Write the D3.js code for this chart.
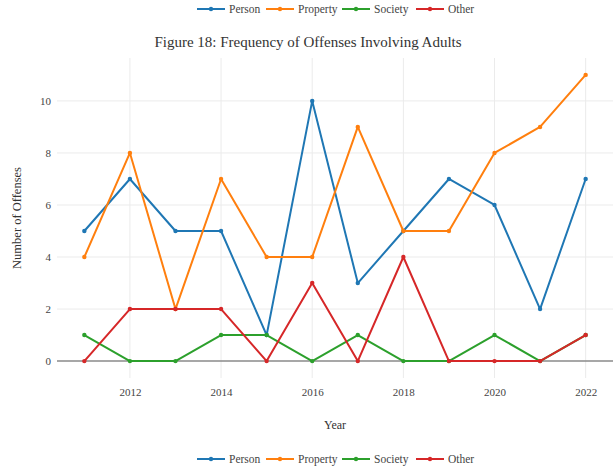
<!DOCTYPE html>
<html><head><meta charset="utf-8">
<script src="https://cdn.jsdelivr.net/npm/d3@7"></script>
<style>body{margin:0;background:#fff}svg{display:block}</style>
</head><body>
<script>
const years = [2011,2012,2013,2014,2015,2016,2017,2018,2019,2020,2021,2022];
const person   = [5,7,5,5,1,10,3,5,7,6,2,7];
const property = [4,8,2,7,4,4,9,5,5,8,9,11];
const society  = [1,0,0,1,1,0,1,0,0,1,0,1];
const other    = [0,2,2,2,0,3,0,4,0,0,0,1];
const seriesNames = ["Person","Property","Society","Other"];
const seriesColors = ["#1f77b4","#ff7f0e","#2ca02c","#d62728"];
const xTicks = [2012,2014,2016,2018,2020,2022];
const yTicks = [0,2,4,6,8,10];

const W=613,H=470;
const m={l:57,r:0,t:58,b:92};
const svg=d3.select("body").append("svg").attr("width",W).attr("height",H);
const font="Liberation Serif, Times New Roman, serif";
const x=d3.scaleLinear().domain([2010.4,2022.6]).range([m.l,W-m.r]);
const y=d3.scaleLinear().domain([-0.65,11.65]).range([H-m.b,m.t]);

// grid
svg.append("g").selectAll("line").data(xTicks).join("line")
  .attr("x1",d=>x(d)).attr("x2",d=>x(d)).attr("y1",m.t).attr("y2",H-m.b)
  .attr("stroke","#ebebeb").attr("stroke-width",1);
svg.append("g").selectAll("line").data(yTicks.filter(d=>d!==0)).join("line")
  .attr("x1",m.l).attr("x2",W-m.r).attr("y1",d=>y(d)).attr("y2",d=>y(d))
  .attr("stroke","#ebebeb").attr("stroke-width",1);
// zero line
svg.append("line").attr("x1",m.l).attr("x2",W-m.r).attr("y1",y(0)).attr("y2",y(0))
  .attr("stroke","#8a8a8a").attr("stroke-width",1.5);

// axes labels
const xa=svg.append("g").attr("transform",`translate(0,${H-m.b})`)
  .call(d3.axisBottom(x).tickValues(xTicks).tickFormat(d3.format("d")).tickSize(0).tickPadding(10));
const ya=svg.append("g").attr("transform",`translate(${m.l},0)`)
  .call(d3.axisLeft(y).tickValues(yTicks).tickSize(0).tickPadding(6));
[xa,ya].forEach(a=>{a.attr("font-family",font).attr("font-size",11);a.select(".domain").remove();a.selectAll("text").attr("fill","#444");});

// lines
const data=[person,property,society,other];
const line=d3.line().x((d,i)=>x(years[i])).y(d=>y(d));
data.forEach((s,k)=>{
  const g=svg.append("g");
  g.append("path").attr("d",line(s)).attr("fill","none").attr("stroke",seriesColors[k]).attr("stroke-width",2).attr("stroke-linejoin","round");
  g.selectAll("circle").data(s).join("circle").attr("cx",(d,i)=>x(years[i])).attr("cy",d=>y(d)).attr("r",2.2).attr("fill",seriesColors[k]);
});

// titles
svg.append("text").attr("x",308).attr("y",47).attr("text-anchor","middle").attr("font-family",font).attr("font-size",15).attr("fill","#333").text("Figure 18: Frequency of Offenses Involving Adults");
svg.append("text").attr("x",335).attr("y",429).attr("text-anchor","middle").attr("font-family",font).attr("font-size",12).attr("fill","#333").text("Year");
svg.append("text").attr("transform","translate(21,218) rotate(-90)").attr("text-anchor","middle").attr("font-family",font).attr("font-size",12.5).attr("fill","#333").text("Number of Offenses");

// legends
const legX=[197,266,342,416];
function legend(yy){
  const g=svg.append("g").attr("font-family",font).attr("font-size",11.5);
  seriesNames.forEach((n,k)=>{
    g.append("line").attr("x1",legX[k]).attr("x2",legX[k]+28).attr("y1",yy).attr("y2",yy).attr("stroke",seriesColors[k]).attr("stroke-width",2);
    g.append("circle").attr("cx",legX[k]+14).attr("cy",yy).attr("r",2.2).attr("fill",seriesColors[k]);
    g.append("text").attr("x",legX[k]+32).attr("y",yy+4).attr("fill","#444").text(n);
  });
}
legend(9);
legend(459);
</script>
</body></html>
